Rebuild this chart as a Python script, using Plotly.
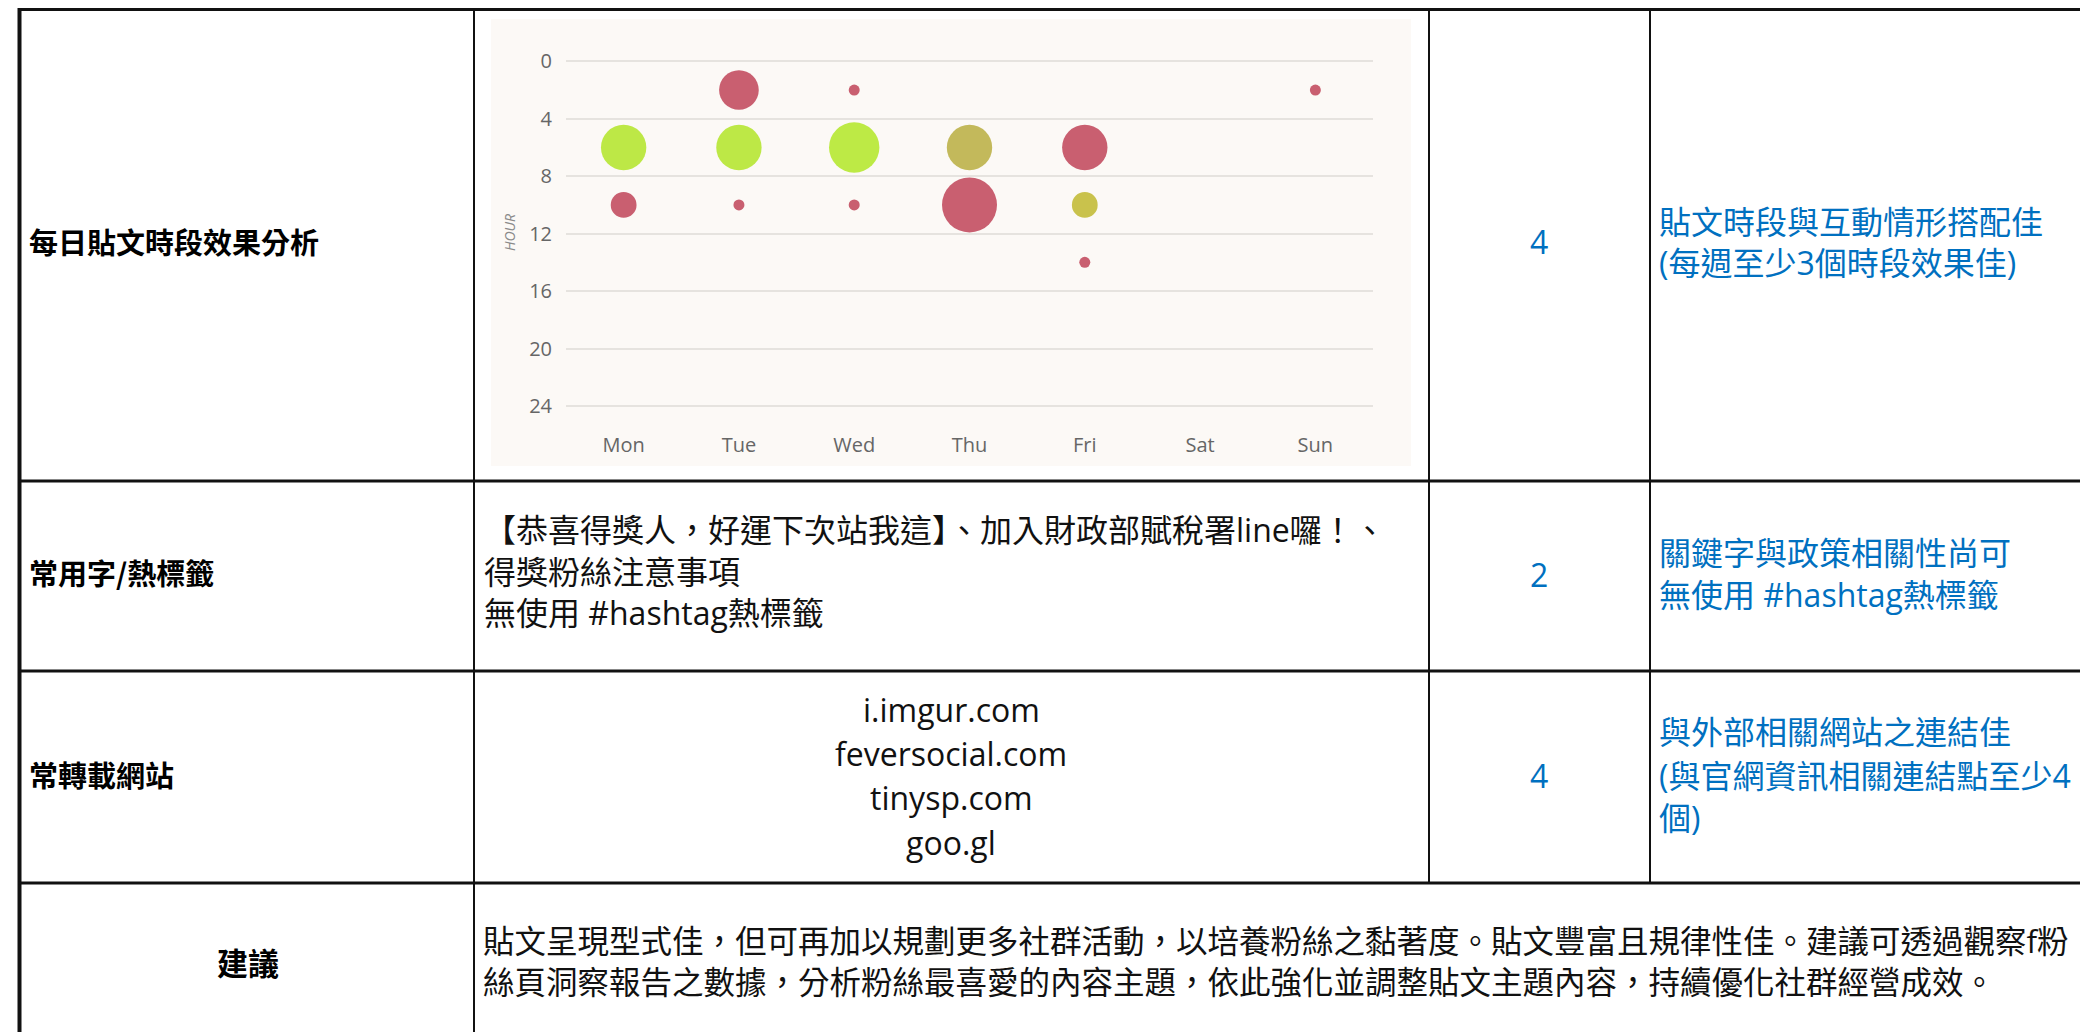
import plotly.graph_objects as go

# ---------------- data ----------------
days = ["Mon", "Tue", "Wed", "Thu", "Fri", "Sat", "Sun"]
hour_ticks = [0, 4, 8, 12, 16, 20, 24]

bubble_day = ["Tue", "Wed", "Sun", "Mon", "Tue", "Wed", "Thu", "Fri",
              "Mon", "Tue", "Wed", "Thu", "Fri", "Fri"]
bubble_hour = [2, 2, 2, 6, 6, 6, 6, 6, 10, 10, 10, 10, 10, 14]
bubble_value = [13, 1, 1, 17, 17, 21, 17, 17, 5.5, 1, 1, 25, 5.5, 1]
bubble_color = ["#c95f70", "#c95f70", "#c95f70", "#bde846", "#bde846", "#bdea45",
                "#c3b95b", "#c95f70", "#c95f70", "#c95f70", "#c95f70", "#c95f70",
                "#c9c24c", "#c95f70"]

row_labels = ["每日貼文時段效果分析", "常用字/熱標籤", "常轉載網站"]
suggest_label = "建議"
scores = ["4", "2", "4"]
keywords = ["【恭喜得獎人，好運下次站我這】、加入財政部賦稅署line囉！、",
            "得獎粉絲注意事項",
            "無使用 #hashtag熱標籤"]
sites = ["i.imgur.com", "feversocial.com", "tinysp.com", "goo.gl"]
comments = [["貼文時段與互動情形搭配佳", "(每週至少3個時段效果佳)"],
            ["關鍵字與政策相關性尚可", "無使用 #hashtag熱標籤"],
            ["與外部相關網站之連結佳", "(與官網資訊相關連結點至少4", "個)"]]
suggestion = ["貼文呈現型式佳，但可再加以規劃更多社群活動，以培養粉絲之黏著度。貼文豐富且規律性佳。建議可透過觀察f粉",
              "絲頁洞察報告之數據，分析粉絲最喜愛的內容主題，依此強化並調整貼文主題內容，持續優化社群經營成效。"]

# ---------------- layout helpers ----------------
W, H = 2088, 1032
DY = -4  # small vertical correction for text baseline


def px(x):
    return x / W


def py(y):
    return 1 - y / H


CJK = "Noto Sans CJK TC"
CONTENT = "Open Sans, Noto Sans CJK TC"
BLUE = "#0070C0"

fig = go.Figure()

fig.add_trace(go.Scatter(
    x=bubble_day, y=bubble_hour, mode="markers",
    marker=dict(size=bubble_value, sizemode="area",
                sizeref=2 * max(bubble_value) / 55 ** 2,
                color=bubble_color, opacity=1, line=dict(width=0)),
    hoverinfo="x+y", showlegend=False, cliponaxis=False,
))

shapes = []
# chart background
shapes.append(dict(type="rect", xref="paper", yref="paper",
                   x0=px(483), x1=px(1403), y0=py(458), y1=py(11),
                   fillcolor="#fcf9f6", line=dict(width=0), layer="below"))
# table borders
LINE = "#111111"
shapes.append(dict(type="line", xref="paper", yref="paper",
                   x0=px(10), x1=px(2088), y0=py(1.5), y1=py(1.5),
                   line=dict(color=LINE, width=3)))
shapes.append(dict(type="line", xref="paper", yref="paper",
                   x0=px(11.5), x1=px(11.5), y0=py(0), y1=py(1032),
                   line=dict(color=LINE, width=4)))
shapes.append(dict(type="line", xref="paper", yref="paper",
                   x0=px(466), x1=px(466), y0=py(0), y1=py(1032),
                   line=dict(color=LINE, width=2)))
for cx in (1421, 1642):
    shapes.append(dict(type="line", xref="paper", yref="paper",
                       x0=px(cx), x1=px(cx), y0=py(0), y1=py(875),
                       line=dict(color=LINE, width=2)))
for ry in (473, 663, 875):
    shapes.append(dict(type="line", xref="paper", yref="paper",
                       x0=px(10), x1=px(2088), y0=py(ry), y1=py(ry),
                       line=dict(color=LINE, width=3)))

ann = []


def text(t, x, y, size, color="#111111", family=CONTENT, xanchor="left"):
    ann.append(dict(text=t, x=px(x), y=py(y + DY), xref="paper", yref="paper",
                    xanchor=xanchor, yanchor="middle", showarrow=False,
                    font=dict(family=family, size=size, color=color)))


# row labels
label_y = [237, 568, 770]
for lab, yy in zip(row_labels, label_y):
    text("<b>" + lab + "</b>", 19, yy, 29, "#000000", CJK)
text("<b>" + suggest_label + "</b>", 240, 957, 31, "#000000", CJK, "center")

# scores
score_y = [238, 570, 771]
for s, yy in zip(scores, score_y):
    text(s, 1531, yy, 32, BLUE, CONTENT, "center")

# comments
comment_y = [[217, 258], [548, 590], [727, 771, 813]]
for lines, ys in zip(comments, comment_y):
    for t, yy in zip(lines, ys):
        text(t, 1649, yy, 32, BLUE)

# keywords
for t, yy in zip(keywords, [525, 567, 608]):
    text(t, 474, yy, 32)

# sites
for t, yy in zip(sites, [705, 749, 793, 838]):
    text(t, 943, yy, 32, "#111111", CONTENT, "center")

# suggestion
for t, yy in zip(suggestion, [936, 977]):
    text(t, 473, yy, 31.5)

# HOUR axis title
ann.append(dict(text="<i>HOUR</i>", x=px(502), y=py(225), xref="paper", yref="paper",
                xanchor="center", yanchor="middle", showarrow=False, textangle=-90,
                font=dict(family="Open Sans", size=14, color="#8a8a8a")))

fig.update_layout(
    template="none",
    width=W, height=H, autosize=False,
    margin=dict(l=0, r=0, t=0, b=0, pad=0),
    paper_bgcolor="white", plot_bgcolor="rgba(0,0,0,0)",
    shapes=shapes, annotations=ann,
    xaxis=dict(domain=[px(558), px(1365)], type="category",
               categoryorder="array", categoryarray=days,
               tickmode="array", tickvals=days, ticktext=days,
               range=[-0.5, 6.5], showgrid=False, zeroline=False, showline=False,
               ticks="outside", ticklen=17, tickcolor="rgba(0,0,0,0)",
               tickfont=dict(family="Open Sans", size=20, color="#666666"),
               automargin=False, fixedrange=True),
    yaxis=dict(domain=[py(402.3), py(49.0)], range=[24.3, -0.3],
               tickmode="array", tickvals=hour_ticks,
               ticktext=[str(v) for v in hour_ticks],
               showgrid=True, gridcolor="#e6e3df", gridwidth=1.5,
               zeroline=False, showline=False,
               ticks="outside", ticklen=9, tickcolor="rgba(0,0,0,0)",
               tickfont=dict(family="Open Sans", size=20, color="#666666"),
               automargin=False, fixedrange=True),
)

fig.write_html("out.html", config={"displayModeBar": False})
